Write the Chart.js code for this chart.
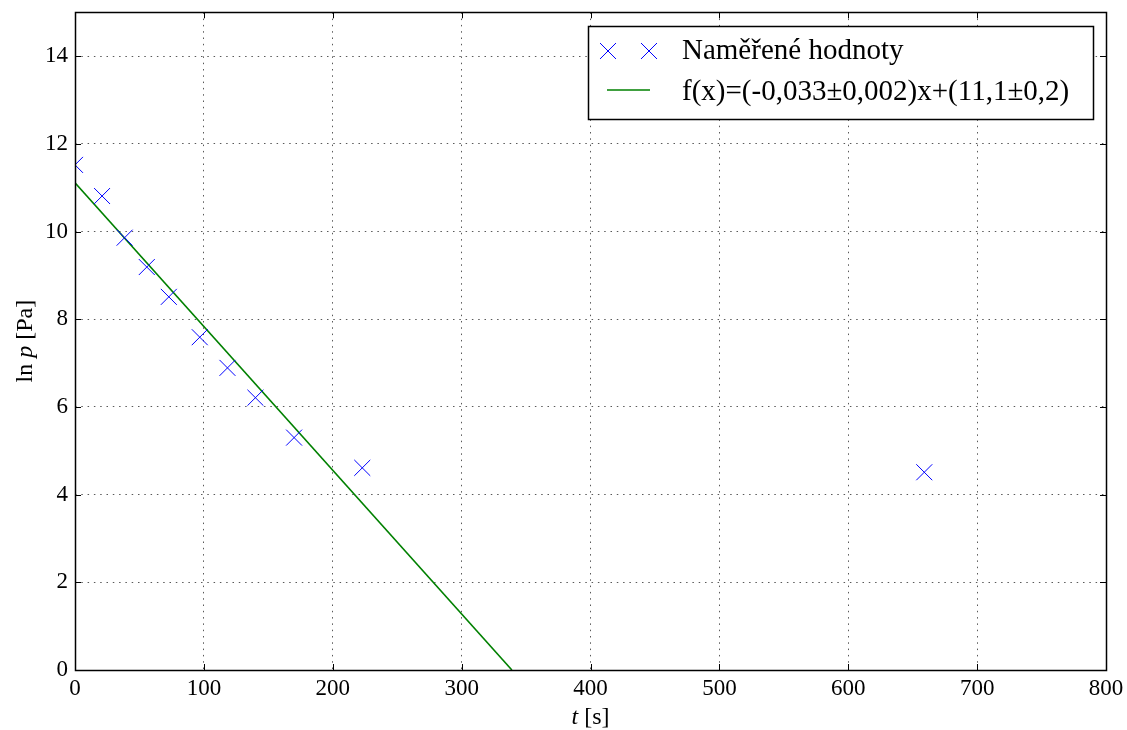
<!DOCTYPE html>
<html lang="cs">
<head>
<meta charset="UTF-8">
<title>ln p vs t</title>
<script src="https://cdn.jsdelivr.net/npm/chart.js@4.4.1/dist/chart.umd.min.js"></script>
<style>
  html, body { margin: 0; padding: 0; background: #fff; }
  #wrap { position: relative; width: 1127px; height: 730px; }
</style>
</head>
<body>
<div id="wrap"><canvas id="chart"></canvas></div>
<script>
// measured values
const tValues = [0, 21, 38.5, 55.7, 72.8, 96.8, 118.3, 140, 170, 222.9, 659];
const lnP = [11.52, 10.81, 9.86, 9.19, 8.51, 7.59, 6.89, 6.21, 5.3, 4.61, 4.51];

// fitted line, end points
const fitT = [0, 339];
const fitLnP = [11.11, 0];

const xTicks = [0, 100, 200, 300, 400, 500, 600, 700, 800];
const yTicks = [0, 2, 4, 6, 8, 10, 12, 14];

const legendLabels = ['Naměřené hodnoty', 'f(x)=(-0,033±0,002)x+(11,1±0,2)'];

const serif = '"Liberation Serif", "DejaVu Serif", serif';

// frame, inward ticks, axis titles and legend box (matplotlib look)
const decor = {
  id: 'decor',
  afterDraw(chart) {
    const ctx = chart.ctx;
    const a = chart.chartArea;
    const xs = chart.scales.x, ys = chart.scales.y;
    ctx.save();
    ctx.strokeStyle = '#000';
    ctx.lineWidth = 1;
    ctx.setLineDash([]);
    ctx.beginPath();
    xTicks.forEach(v => {
      const px = Math.round(xs.getPixelForValue(v)) + 0.5;
      ctx.moveTo(px, a.bottom); ctx.lineTo(px, a.bottom - 6);
      ctx.moveTo(px, a.top); ctx.lineTo(px, a.top + 6);
    });
    yTicks.forEach(v => {
      const py = Math.round(ys.getPixelForValue(v)) + 0.5;
      ctx.moveTo(a.left, py); ctx.lineTo(a.left + 6, py);
      ctx.moveTo(a.right, py); ctx.lineTo(a.right - 6, py);
    });
    ctx.stroke();
    ctx.lineWidth = 1.5;
    ctx.strokeRect(Math.round(a.left) + 0.5, Math.round(a.top) + 0.5,
                   Math.round(a.right - a.left), Math.round(a.bottom - a.top));

    // axis titles with italic variables
    function mixed(parts, x, y) {
      let w = 0;
      parts.forEach(p => { ctx.font = p[1] + ' 24px ' + serif; w += ctx.measureText(p[0]).width; });
      let cx = x - w / 2;
      parts.forEach(p => {
        ctx.font = p[1] + ' 24px ' + serif;
        ctx.fillText(p[0], cx, y);
        cx += ctx.measureText(p[0]).width;
      });
    }
    ctx.fillStyle = '#000';
    ctx.textBaseline = 'alphabetic';
    ctx.textAlign = 'left';
    mixed([['t', 'italic'], [' [s]', 'normal']], (a.left + a.right) / 2, 724);
    ctx.save();
    ctx.translate(32, (a.top + a.bottom) / 2);
    ctx.rotate(-Math.PI / 2);
    mixed([['ln ', 'normal'], ['p', 'italic'], [' [Pa]', 'normal']], 0, 0);
    ctx.restore();

    // legend
    const bx = 588, by = 26, bw = 505, bh = 93;
    ctx.fillStyle = '#fff';
    ctx.fillRect(bx, by, bw, bh);
    ctx.lineWidth = 1.5;
    ctx.strokeStyle = '#000';
    ctx.strokeRect(bx + 0.5, by + 0.5, bw, bh);
    const pt = chart.data.datasets[0];
    ctx.lineWidth = 1;
    ctx.beginPath();
    ctx.strokeStyle = pt.borderColor;
    [608, 649].forEach(mx => {
      const o = pt.pointRadius * Math.SQRT1_2;
      ctx.moveTo(mx - o, 51 - o); ctx.lineTo(mx + o, 51 + o);
      ctx.moveTo(mx - o, 51 + o); ctx.lineTo(mx + o, 51 - o);
    });
    ctx.stroke();
    ctx.strokeStyle = chart.data.datasets[1].borderColor;
    ctx.lineWidth = 1.5;
    ctx.beginPath();
    ctx.moveTo(607, 90); ctx.lineTo(650, 90);
    ctx.stroke();
    ctx.fillStyle = '#000';
    ctx.font = '29px ' + serif;
    ctx.fillText(legendLabels[0], 682, 59);
    ctx.fillText(legendLabels[1], 682, 100);
    ctx.restore();
  }
};

new Chart(document.getElementById('chart'), {
  type: 'scatter',
  data: {
    datasets: [{
      label: legendLabels[0],
      data: tValues.map((t, i) => ({ x: t, y: lnP[i] })),
      showLine: false,
      pointStyle: 'crossRot',
      pointRadius: 11.3,
      pointHoverRadius: 11.3,
      pointBorderWidth: 1,
      borderColor: '#0000ff',
      backgroundColor: '#0000ff',
      order: 1
    }, {
      label: legendLabels[1],
      data: fitT.map((t, i) => ({ x: t, y: fitLnP[i] })),
      showLine: true,
      pointRadius: 0,
      borderColor: '#008000',
      borderWidth: 1.6,
      order: 2
    }]
  },
  options: {
    responsive: true,
    maintainAspectRatio: false,
    animation: false,
    layout: { padding: { top: 11, right: 21, left: 0, bottom: 0 } },
    plugins: { legend: { display: false }, tooltip: { enabled: false } },
    scales: {
      x: {
        type: 'linear', min: 0, max: 800,
        afterBuildTicks: s => { s.ticks = xTicks.map(v => ({ value: v })); },
        afterFit: s => { s.height = 60; s.paddingLeft = 0; s.paddingRight = 0; },
        grid: { color: 'rgba(0,0,0,0.65)', lineWidth: 1, drawTicks: false },
        border: { display: false, dash: [1.5, 4.8] },
        ticks: { color: '#000', padding: 5, font: { family: serif, size: 23 } }
      },
      y: {
        type: 'linear', min: 0, max: 15,
        afterBuildTicks: s => { s.ticks = yTicks.map(v => ({ value: v })); },
        afterFit: s => { s.width = 75; s.paddingTop = 0; s.paddingBottom = 0; },
        grid: { color: 'rgba(0,0,0,0.65)', lineWidth: 1, drawTicks: false },
        border: { display: false, dash: [1.5, 4.8] },
        ticks: { color: '#000', padding: 7, font: { family: serif, size: 23 } }
      }
    }
  },
  plugins: [decor]
});
</script>
</body>
</html>
